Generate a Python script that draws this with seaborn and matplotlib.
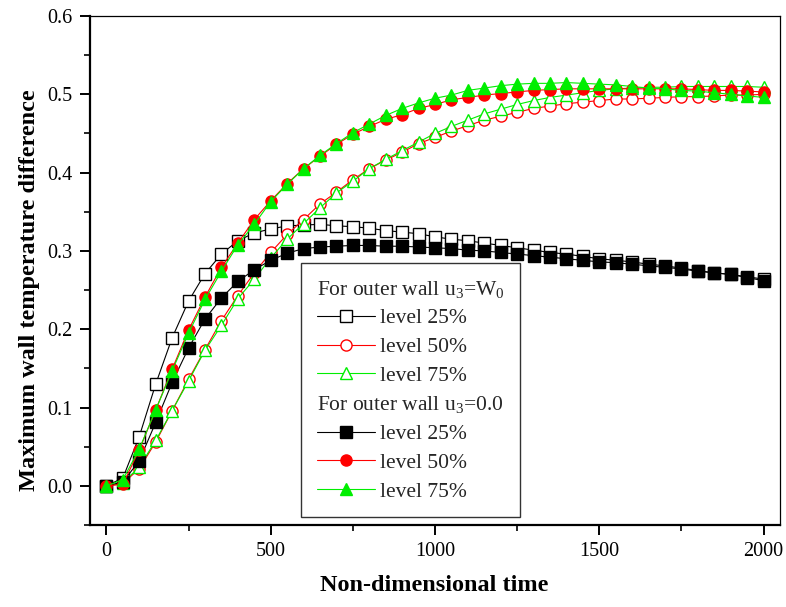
import matplotlib
matplotlib.use("Agg")
import matplotlib.pyplot as plt
import seaborn as sns
from matplotlib.lines import Line2D
from matplotlib.ticker import MultipleLocator

time = [0, 50, 100, 150, 200, 250, 300, 350, 400, 450, 500, 550, 600, 650, 700,
        750, 800, 850, 900, 950, 1000, 1050, 1100, 1150, 1200, 1250, 1300, 1350,
        1400, 1450, 1500, 1550, 1600, 1650, 1700, 1750, 1800, 1850, 1900, 1950, 2000]

w0_level25 = [0.000, 0.010, 0.063, 0.130, 0.189, 0.236, 0.271, 0.296, 0.313, 0.323,
              0.328, 0.332, 0.333, 0.334, 0.332, 0.331, 0.329, 0.326, 0.324, 0.322,
              0.318, 0.315, 0.313, 0.310, 0.307, 0.304, 0.301, 0.298, 0.296, 0.293,
              0.290, 0.288, 0.286, 0.283, 0.281, 0.278, 0.275, 0.272, 0.270, 0.267,
              0.264]
w0_level50 = [0.000, 0.003, 0.022, 0.056, 0.096, 0.136, 0.174, 0.211, 0.243, 0.272,
              0.298, 0.321, 0.340, 0.360, 0.375, 0.391, 0.405, 0.416, 0.426, 0.437,
              0.445, 0.453, 0.460, 0.467, 0.472, 0.477, 0.482, 0.485, 0.488, 0.490,
              0.492, 0.494, 0.494, 0.495, 0.496, 0.497, 0.497, 0.498, 0.499, 0.499,
              0.500]
w0_level75 = [0.000, 0.004, 0.024, 0.058, 0.096, 0.134, 0.173, 0.205, 0.239, 0.264,
              0.291, 0.315, 0.335, 0.355, 0.374, 0.389, 0.405, 0.417, 0.428, 0.439,
              0.450, 0.459, 0.467, 0.475, 0.481, 0.487, 0.492, 0.496, 0.499, 0.502,
              0.505, 0.507, 0.508, 0.509, 0.509, 0.510, 0.510, 0.510, 0.510, 0.510,
              0.509]
zero_level25 = [0.000, 0.005, 0.032, 0.081, 0.132, 0.176, 0.213, 0.240, 0.261, 0.276,
                0.288, 0.297, 0.303, 0.305, 0.306, 0.307, 0.307, 0.306, 0.306, 0.305,
                0.304, 0.303, 0.301, 0.300, 0.298, 0.296, 0.294, 0.292, 0.290, 0.288,
                0.286, 0.285, 0.283, 0.281, 0.279, 0.277, 0.274, 0.272, 0.270, 0.266,
                0.262]
zero_level50 = [0.000, 0.002, 0.046, 0.097, 0.149, 0.199, 0.241, 0.279, 0.310, 0.340,
                0.364, 0.386, 0.405, 0.421, 0.436, 0.449, 0.459, 0.468, 0.474, 0.482,
                0.487, 0.493, 0.496, 0.499, 0.501, 0.503, 0.505, 0.506, 0.507, 0.507,
                0.507, 0.507, 0.507, 0.507, 0.507, 0.507, 0.506, 0.505, 0.505, 0.504,
                0.503]
zero_level75 = [0.000, 0.008, 0.047, 0.097, 0.147, 0.195, 0.238, 0.274, 0.308, 0.334,
                0.363, 0.385, 0.405, 0.422, 0.437, 0.451, 0.462, 0.473, 0.482, 0.489,
                0.495, 0.499, 0.505, 0.508, 0.511, 0.513, 0.514, 0.514, 0.515, 0.514,
                0.513, 0.512, 0.510, 0.508, 0.507, 0.505, 0.504, 0.502, 0.500, 0.498,
                0.496]

level_labels = ["level 25%", "level 50%", "level 75%"]
header_w0 = "For outer wall u$_3$=W$_0$"
header_zero = "For outer wall u$_3$=0.0"
x_label = "Non-dimensional time"
y_label = "Maximum wall temperature difference"

sns.set_theme(style="white")
plt.rcParams["font.family"] = ["Liberation Serif", "DejaVu Serif"]
plt.rcParams["mathtext.fontset"] = "custom"
plt.rcParams["mathtext.rm"] = "Liberation Serif"
plt.rcParams["mathtext.it"] = "Liberation Serif:italic"
plt.rcParams["mathtext.bf"] = "Liberation Serif:bold"

fig = plt.figure(figsize=(7.86, 6.07), dpi=100)
ax = fig.add_axes([90 / 786, 1 - 525 / 607, 690 / 786, 509 / 607])

series = [
    (w0_level25, "black", "s", "white"),
    (w0_level50, "#ff0000", "o", "white"),
    (w0_level75, "#00ee00", "^", "white"),
    (zero_level25, "black", "s", "black"),
    (zero_level50, "#ff0000", "o", "#ff0000"),
    (zero_level75, "#00ee00", "^", "#00ee00"),
]
handles = []
for vals, col, mk, fc in series:
    ms = 9 if mk == "^" else 8
    sns.lineplot(x=time, y=vals, ax=ax, color=col, linewidth=0.8,
                 marker=mk, markersize=ms, markerfacecolor=fc,
                 markeredgecolor=col, markeredgewidth=1.0, estimator=None,
                 sort=False)
    handles.append(Line2D([], [], color=col, linewidth=0.8, marker=mk,
                          markersize=ms, markerfacecolor=fc,
                          markeredgecolor=col, markeredgewidth=1.0))

blank = Line2D([], [], linestyle="none", marker=None)
leg_handles = [blank] + handles[:3] + [blank] + handles[3:]
leg_labels = [header_w0] + level_labels + [header_zero] + level_labels
leg = ax.legend(leg_handles, leg_labels, loc="lower left",
                bbox_to_anchor=(0.306, 0.0157), borderaxespad=0,
                frameon=True, fancybox=False, shadow=False,
                fontsize=15.5, handlelength=2.7, handletextpad=0.25,
                labelspacing=0.4, borderpad=0.72)
leg.get_frame().set_edgecolor("black")
leg.get_frame().set_linewidth(1.0)
# make header rows start at the left edge (no handle space)
for col_box in leg._legend_handle_box.get_children():
    rows = col_box.get_children()
    for i in (0, 4):
        rows[i].get_children()[0].width = 0
        rows[i].sep = 0

ax.set_xlim(-50, 2050)
ax.set_ylim(-0.05, 0.6)
ax.xaxis.set_major_locator(MultipleLocator(500))
ax.xaxis.set_minor_locator(MultipleLocator(250))
ax.yaxis.set_major_locator(MultipleLocator(0.1))
ax.yaxis.set_minor_locator(MultipleLocator(0.05))
ax.yaxis.set_major_formatter(matplotlib.ticker.FormatStrFormatter("%.1f"))

ax.tick_params(axis="both", which="major", direction="out", length=7.5,
               width=1.4, labelsize=14.5, color="black", labelcolor="black",
               bottom=True, left=True, top=False, right=False, pad=5)
ax.tick_params(axis="both", which="minor", direction="out", length=4,
               width=1.2, color="black", bottom=True, left=True,
               top=False, right=False)

for side in ["left", "bottom"]:
    ax.spines[side].set_linewidth(1.6)
    ax.spines[side].set_color("black")
for side in ["top", "right"]:
    ax.spines[side].set_linewidth(0.9)
    ax.spines[side].set_color("black")

ax.set_xlabel(x_label, fontsize=17.5, fontweight="bold", color="black")
ax.set_ylabel(y_label, fontsize=17.5, fontweight="bold", color="black")
ax.xaxis.set_label_coords(0.499, -0.098)
ax.yaxis.set_label_coords(-0.073, 0.462)

fig.savefig("out.png", dpi=100, facecolor="white")
